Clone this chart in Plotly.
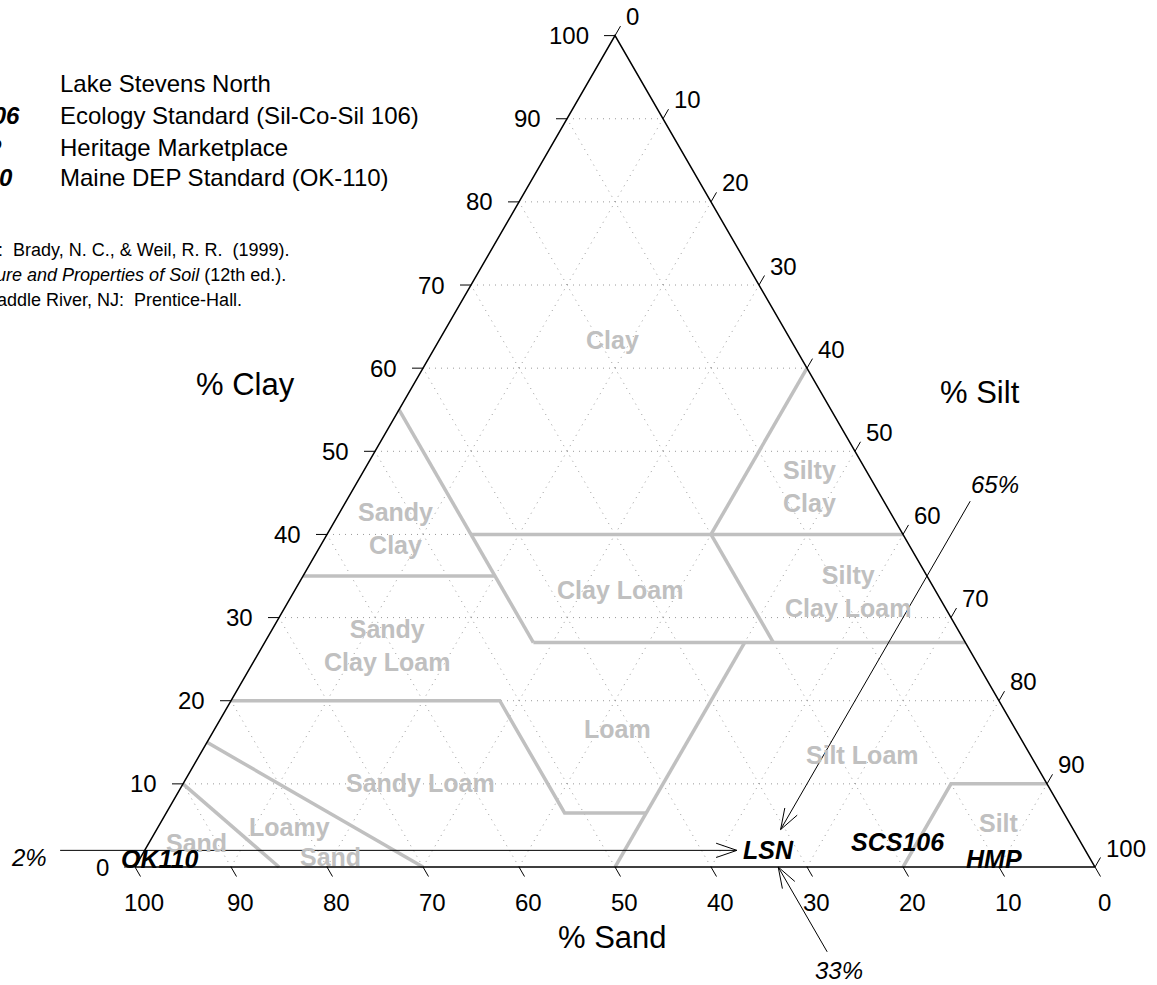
import math
import plotly.graph_objects as go

W, H = 1157, 985
FONT = "Liberation Sans, Arial, sans-serif"

# ---------------- data ----------------
tick_values = [0, 10, 20, 30, 40, 50, 60, 70, 80, 90, 100]
grid_values = [10, 20, 30, 40, 50, 60, 70, 80, 90]

# texture-class boundary polylines, in % silt / % clay
boundary_silt = [[0, 28], [15, 60], [40, 40], [40, 53], [28, 73], [0, 20],
                 [0, 28, 41.5, 50], [50, 50], [80, 80, 90], [0, 30], [0, 15]]
boundary_clay = [[55, 27], [40, 40], [60, 40], [40, 27], [27, 27], [35, 35],
                 [20, 20, 6.5, 6.5], [27, 0], [0, 10, 10], [15, 0], [10, 0]]

class_names = ["Clay", "Silty<br>Clay", "Sandy<br>Clay", "Clay Loam",
               "Silty<br>Clay Loam", "Sandy<br>Clay Loam", "Loam", "Silt Loam",
               "Sandy Loam", "Loamy", "Sand", "Sand", "Silt"]
class_silt = [18, 47.4, 6.8, 33.9, 57.7, 13, 42, 69, 24.7, 13.7, 19.8, 5, 87.4]
class_clay = [63.4, 45.8, 40.7, 33.3, 33.1, 26.6, 16.6, 13.5, 10.1, 4.8, 1.2, 2.9, 5.3]

sample_codes = ["LSN", "SCS106", "HMP", "OK110"]
sample_names = ["Lake Stevens North", "Ecology Standard (Sil-Co-Sil 106)",
                "Heritage Marketplace", "Maine DEP Standard (OK-110)"]
sample_sand = [33, 19, 10, 97]
sample_silt = [65, 78, 89, 2]
sample_clay = [2, 3, 1, 1]

reference_lines = ["Source:  Brady, N. C., & Weil, R. R.  (1999).",
                   "<i>The Nature and Properties of Soil</i> (12th ed.).",
                   "Upper Saddle River, NJ:  Prentice-Hall."]

# ---------------- geometry helpers ----------------
S3 = math.sqrt(3) / 2
PXU = 9.6          # pixels per percent unit along the base
X0, Y0 = 135, 867  # pixel position of the 100 % sand corner


def xy(silt, clay):
    return silt + clay / 2.0, clay * S3


def paper(px, py):
    return px / W, 1 - py / H


fig = go.Figure()

# dotted grid
gx, gy = [], []
for v in grid_values:
    for a, b in [((0, v), (100 - v, v)),        # clay = v
                 ((v, 0), (v, 100 - v)),        # silt = v
                 ((100 - v, 0), (0, 100 - v))]:  # sand = v
        p, q = xy(*a), xy(*b)
        gx += [p[0], q[0], None]
        gy += [p[1], q[1], None]
fig.add_trace(go.Scatter(x=gx, y=gy, mode="lines", hoverinfo="skip",
                         line=dict(color="#9a9a9a", width=1, dash="1px,5px")))

# class boundaries
bx, by = [], []
for ss, cc in zip(boundary_silt, boundary_clay):
    for s, c in zip(ss, cc):
        p = xy(s, c)
        bx.append(p[0]); by.append(p[1])
    bx.append(None); by.append(None)
fig.add_trace(go.Scatter(x=bx, y=by, mode="lines", hoverinfo="skip",
                         line=dict(color="#c0c0c0", width=3.5)))

# triangle outline
corners = [xy(0, 0), xy(100, 0), xy(0, 100), xy(0, 0)]
fig.add_trace(go.Scatter(x=[p[0] for p in corners], y=[p[1] for p in corners],
                         mode="lines", hoverinfo="skip",
                         line=dict(color="black", width=1.5)))

# ticks
TL = 11 / PXU
tx, ty = [], []
ann = []
tick_font = dict(family=FONT, size=24, color="black")
for v in tick_values:
    # bottom: % sand
    bx0, by0 = xy(100 - v, 0)
    tx += [bx0, bx0 + 0.5 * TL, None]; ty += [by0, by0 - S3 * TL, None]
    ann.append(dict(x=bx0, y=by0, text=str(v), xref="x", yref="y", showarrow=False,
                    xanchor="center", yanchor="middle", xshift=9, yshift=-35, font=tick_font))
    # left: % clay
    lx0, ly0 = xy(0, v)
    tx += [lx0, lx0 - TL, None]; ty += [ly0, ly0, None]
    ann.append(dict(x=lx0, y=ly0, text=str(v), xref="x", yref="y", showarrow=False,
                    xanchor="right", yanchor="middle", xshift=-24, yshift=0, font=tick_font))
    # right: % silt
    rx0, ry0 = xy(v, 100 - v)
    tx += [rx0, rx0 + 0.5 * TL, None]; ty += [ry0, ry0 + S3 * TL, None]
    ann.append(dict(x=rx0, y=ry0, text=str(v), xref="x", yref="y", showarrow=False,
                    xanchor="left", yanchor="middle", xshift=9, yshift=19, font=tick_font))
fig.add_trace(go.Scatter(x=tx, y=ty, mode="lines", hoverinfo="skip",
                         line=dict(color="black", width=1)))

# arrows pointing to LSN
lsn_sand, lsn_silt, lsn_clay = sample_sand[0], sample_silt[0], sample_clay[0]
arrows = [
    (xy(-8.8, lsn_clay), xy(lsn_silt - 3.3, lsn_clay)),            # 2 % clay
    (xy(lsn_silt, 44), xy(lsn_silt, lsn_clay + 2.5)),              # 65 % silt
    (xy(100 - lsn_sand + 10.2, -10.2), xy(100 - lsn_sand, 0)),     # 33 % sand
]
ax_, ay_ = [], []
HL = 22 / PXU
HA = math.radians(19)
for (t0, t1) in arrows:
    ax_ += [t0[0], t1[0], None]; ay_ += [t0[1], t1[1], None]
    dx, dy = t1[0] - t0[0], t1[1] - t0[1]
    n = math.hypot(dx, dy); dx, dy = dx / n, dy / n
    for sgn in (1, -1):
        ca, sa = math.cos(sgn * HA), math.sin(sgn * HA)
        rx, ry = dx * ca - dy * sa, dx * sa + dy * ca
        ax_ += [t1[0], t1[0] - HL * rx, None]; ay_ += [t1[1], t1[1] - HL * ry, None]
fig.add_trace(go.Scatter(x=ax_, y=ay_, mode="lines", hoverinfo="skip",
                         line=dict(color="black", width=1)))

arrow_font = dict(family=FONT, size=24, color="black")
for (t0, _), label, (xs, ys) in zip(arrows, [f"{lsn_clay}%", f"{lsn_silt}%", f"{lsn_sand}%"],
                                    [(-31, -7), (25, 17), (12, -19)]):
    ann.append(dict(x=t0[0], y=t0[1], text=f"<i>{label}</i>", xref="x", yref="y",
                    showarrow=False, xanchor="center", yanchor="middle",
                    xshift=xs, yshift=ys, font=arrow_font))

# class labels
for name, s, c in zip(class_names, class_silt, class_clay):
    p = xy(s, c)
    ann.append(dict(x=p[0], y=p[1], text=f"<b>{name}</b>", xref="x", yref="y",
                    showarrow=False, xanchor="center", yanchor="middle", align="center",
                    font=dict(family=FONT, size=25, color="#c0c0c0")))

# sample labels
for code, s, c in zip(sample_codes, sample_silt, sample_clay):
    p = xy(s, c)
    ann.append(dict(x=p[0], y=p[1], text=f"<b><i>{code}</i></b>", xref="x", yref="y",
                    showarrow=False, xanchor="center", yanchor="middle",
                    font=dict(family=FONT, size=25, color="black")))

# axis titles
title_font = dict(family=FONT, size=31, color="black")
for txt, (px_, py_) in [("% Clay", (245, 385)), ("% Silt", (980, 392)), ("% Sand", (612, 937))]:
    x_, y_ = paper(px_, py_)
    ann.append(dict(x=x_, y=y_, text=txt, xref="paper", yref="paper", showarrow=False,
                    xanchor="center", yanchor="middle", font=title_font))

# legend
legend_rows = [84, 115, 147, 177]
for code, name, ry in zip(sample_codes, sample_names, legend_rows):
    x_, y_ = paper(-25, ry)
    ann.append(dict(x=x_, y=y_, text=f"<b><i>{code}</i></b>", xref="paper", yref="paper",
                    showarrow=False, xanchor="center", yanchor="middle",
                    font=dict(family=FONT, size=24, color="black")))
    x_, y_ = paper(58, ry)
    ann.append(dict(x=x_, y=y_, text=name, xref="paper", yref="paper",
                    showarrow=False, xanchor="left", yanchor="middle",
                    font=dict(family=FONT, size=24, color="black")))

# reference
for txt, (rx, ry) in zip(reference_lines, [(291, 250), (288, 275), (244, 300)]):
    x_, y_ = paper(rx, ry)
    ann.append(dict(x=x_, y=y_, text=txt, xref="paper", yref="paper",
                    showarrow=False, xanchor="right", yanchor="middle",
                    font=dict(family=FONT, size=18, color="black")))

fig.update_layout(
    width=W, height=H, autosize=False,
    margin=dict(l=0, r=0, t=0, b=0),
    paper_bgcolor="white", plot_bgcolor="white",
    showlegend=False,
    xaxis=dict(range=[-X0 / PXU, (W - X0) / PXU], visible=False, fixedrange=True),
    yaxis=dict(range=[(Y0 - H) / PXU, Y0 / PXU], visible=False, fixedrange=True),
    annotations=ann,
)

fig.write_html("out.html")
